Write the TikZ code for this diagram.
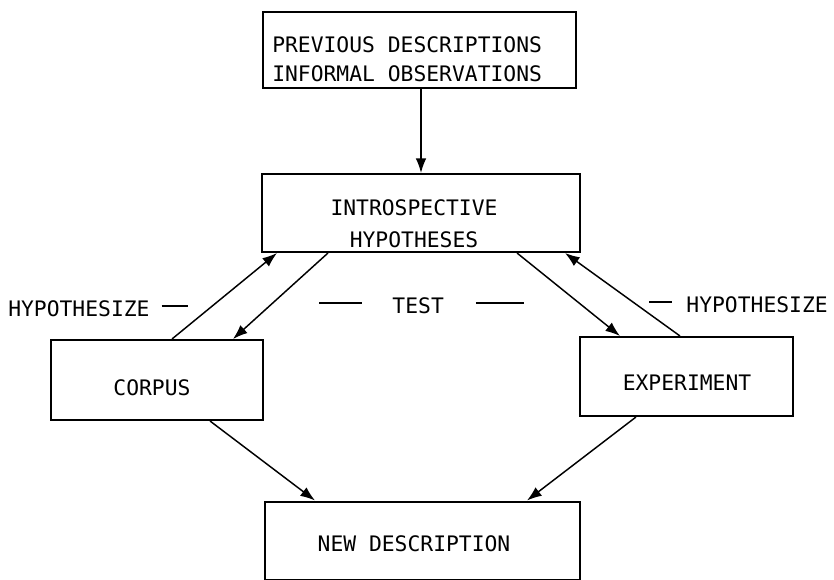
\documentclass[tikz,border=0pt]{standalone}
\usepackage{fontspec}
\setmonofont{DejaVu Sans Mono}
\usetikzlibrary{arrows.meta}
\usetikzlibrary{calc}
\pgfdeclarelayer{edgelayer}
\pgfdeclarelayer{nodelayer}
\pgfsetlayers{edgelayer,nodelayer,main}
\tikzstyle{stage}=[rectangle,draw=black,fill=white,line width=1.5pt,inner sep=0pt]
\tikzstyle{caption}=[inner sep=0pt,font=\ttfamily\fontsize{16}{22}\selectfont]
\tikzstyle{transition}=[-{Latex[length=11pt,width=8pt]},draw=black,line width=1.1pt]
\newcommand{\dashmark}[1]{\rule[7pt]{#1}{1.5pt}}

\begin{document}
\begin{tikzpicture}[x=0.75pt,y=-0.75pt]
	\useasboundingbox (0,0) rectangle (834,580);
	\begin{pgfonlayer}{nodelayer}
		\node [style=stage, minimum width=234.75pt, minimum height=57pt] (0) at (419.5, 50) {};
		\node [style=stage, minimum width=238.5pt, minimum height=58.5pt] (1) at (421, 213) {};
		\node [style=stage, minimum width=159pt, minimum height=60pt] (2) at (157, 380) {};
		\node [style=stage, minimum width=159.75pt, minimum height=59.25pt] (3) at (686.5, 376.5) {};
		\node [style=stage, minimum width=236.25pt, minimum height=58.5pt] (4) at (422, 540.5) {};
	\end{pgfonlayer}
	% box texts
	\node [style=caption, anchor=west, align=left] (t0) at (272, 59.5) {PREVIOUS DESCRIPTIONS\\INFORMAL OBSERVATIONS};
	\node [style=caption, align=center] (t1) at (414, 223.5) {INTROSPECTIVE\\[2pt]HYPOTHESES};
	\node [style=caption] (t2) at (152, 388) {CORPUS};
	\node [style=caption] (t3) at (687, 383) {EXPERIMENT};
	\node [style=caption] (t4) at (414, 543.5) {NEW DESCRIPTION};
	% loop labels
	\node [style=caption, anchor=west] (h0) at (8, 309) {HYPOTHESIZE\hspace{9pt}\dashmark{19.5pt}};
	\node [style=caption] (h1) at (421.5, 306) {\dashmark{32pt}\hspace{23pt}TEST\hspace{24pt}\dashmark{36pt}};
	\node [style=caption, anchor=east] (h2) at (828, 305) {\dashmark{17pt}\hspace{11pt}HYPOTHESIZE};
	\begin{pgfonlayer}{edgelayer}
		\draw [style=transition] ($(0.south)+(1.5,0)$) to (1.north);
		\draw [style=transition] ($(2.north)+(15,0)$) to ($(1.south)+(-144,0)$);
		\draw [style=transition] ($(1.south)+(-93,0)$) to ($(2.north)+(76,0)$);
		\draw [style=transition] ($(1.south)+(96,0)$) to ($(3.north)+(-66.5,0)$);
		\draw [style=transition] ($(3.north)+(-6.5,0)$) to ($(1.south)+(144,0)$);
		\draw [style=transition] ($(2.south)+(53,0)$) to ($(4.north)+(-107,0)$);
		\draw [style=transition] ($(3.south)+(-50.5,0)$) to ($(4.north)+(105,0)$);
	\end{pgfonlayer}
\end{tikzpicture}
\end{document}
